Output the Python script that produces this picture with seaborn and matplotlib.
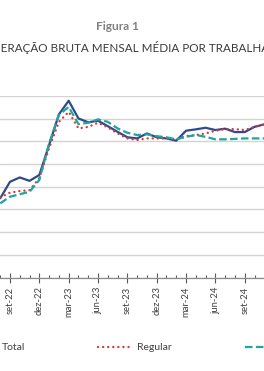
import matplotlib
matplotlib.use("Agg")
import matplotlib.pyplot as plt
import seaborn as sns
import pandas as pd
from matplotlib.ticker import FixedLocator, MultipleLocator

# ---- data (y in grid units) ----
months = ["ago-22", "set-22", "out-22", "nov-22", "dez-22", "jan-23", "fev-23",
          "mar-23", "abr-23", "mai-23", "jun-23", "jul-23", "ago-23", "set-23",
          "out-23", "nov-23", "dez-23", "jan-24", "fev-24", "mar-24", "abr-24",
          "mai-24", "jun-24", "jul-24", "ago-24", "set-24", "out-24", "nov-24"]
total = [3.49, 4.22, 4.41, 4.26, 4.52, 5.84, 7.19, 7.79, 7.01, 6.84, 6.91, 6.67,
         6.42, 6.18, 6.13, 6.35, 6.18, 6.13, 6.03, 6.47, 6.53, 6.60, 6.50, 6.56,
         6.41, 6.41, 6.64, 6.75]
regular = [3.53, 3.74, 3.81, 3.85, 4.38, 5.70, 6.86, 7.30, 6.57, 6.64, 6.82, 6.62,
           6.35, 6.13, 6.06, 6.13, 6.13, 6.13, 6.09, 6.23, 6.28, 6.35, 6.47, 6.54,
           6.54, 6.50, 6.64, 6.75]
irregular = [3.27, 3.56, 3.67, 3.78, 4.30, 5.91, 7.16, 7.52, 6.76, 6.82, 6.97, 6.86,
             6.57, 6.38, 6.28, 6.31, 6.23, 6.18, 6.09, 6.20, 6.28, 6.20, 6.09, 6.09,
             6.11, 6.13, 6.13, 6.13]
labels = ["Total", "Regular", "Irregular"]
title = "Figura 1"
subtitle = "REMUNERAÇÃO BRUTA MENSAL MÉDIA POR TRABALHADOR"

df = pd.DataFrame({"mes": range(len(months)), "Total": total,
                   "Regular": regular, "Irregular": irregular})

sns.set_theme(style="white")
plt.rcParams['font.family'] = ['Lato', 'DejaVu Sans']

W, H = 264, 371
fig = plt.figure(figsize=(W / 100, H / 100), dpi=100)
ax = fig.add_axes([0, (H - 277.5) / H, 1, (277.5 - 96) / H])

navy, red, teal = "#2E4A8C", "#D8393C", "#1FA59D"
sns.lineplot(data=df, x="mes", y="Total", ax=ax, color=navy, lw=1.6,
             label=labels[0])
sns.lineplot(data=df, x="mes", y="Regular", ax=ax, color=red, lw=1.7,
             linestyle=(0, (0.05, 2.1)), label=labels[1])
sns.lineplot(data=df, x="mes", y="Irregular", ax=ax, color=teal, lw=1.6,
             linestyle=(0, (3.4, 1.5)), label=labels[2])
lines = ax.get_lines()
lines[1].set_dash_capstyle("round")

ax.set_xlim(-0.022, 26.97)
ax.set_ylim(0, 8)
ax.yaxis.set_major_locator(MultipleLocator(1))
ax.grid(axis="y", color="#D3D3D3", lw=1.0)
ax.set_axisbelow(True)
for s in ["top", "left", "right"]:
    ax.spines[s].set_visible(False)
ax.spines["bottom"].set_color("#8A8A8A")
ax.spines["bottom"].set_linewidth(0.9)
ax.set_yticklabels([])
ax.tick_params(axis="y", length=0)

major = list(range(1, len(months), 3))
ax.xaxis.set_major_locator(FixedLocator(major))
ax.set_xticklabels([months[i] for i in major], rotation=90, fontsize=6.8,
                   color="#404040")
ax.xaxis.set_minor_locator(MultipleLocator(1))
ax.tick_params(axis="x", which="major", direction="inout", length=6.8,
               width=0.8, color="#595959", pad=3, bottom=True)
ax.tick_params(axis="x", which="minor", direction="in", length=2.4,
               width=0.8, color="#595959", bottom=True)
ax.set_xlabel("")
ax.set_ylabel("")

leg = ax.legend(loc="center left", bbox_to_anchor=(-38 / W, (H - 347.5) / H),
                bbox_transform=fig.transFigure, ncol=3, frameon=False,
                fontsize=7.5, handlelength=3.4, handletextpad=0.4,
                columnspacing=7.0, borderpad=0, borderaxespad=0)
for t in leg.get_texts():
    t.set_color("#404040")

fig.text(117 / W, (H - 26) / H, title, ha="center", va="center",
         fontsize=8.6, fontweight="bold", color="#808080")
r = fig.canvas.get_renderer()
probe = fig.text(0, 0, "REMUN", fontsize=8.4)
wpx = probe.get_window_extent(r).width
probe.remove()
fig.text((-wpx + 1) / W, (H - 48) / H, subtitle, ha="left", va="center",
         fontsize=8.4, color="#3A3A3A")

fig.savefig("out.png", dpi=100)
